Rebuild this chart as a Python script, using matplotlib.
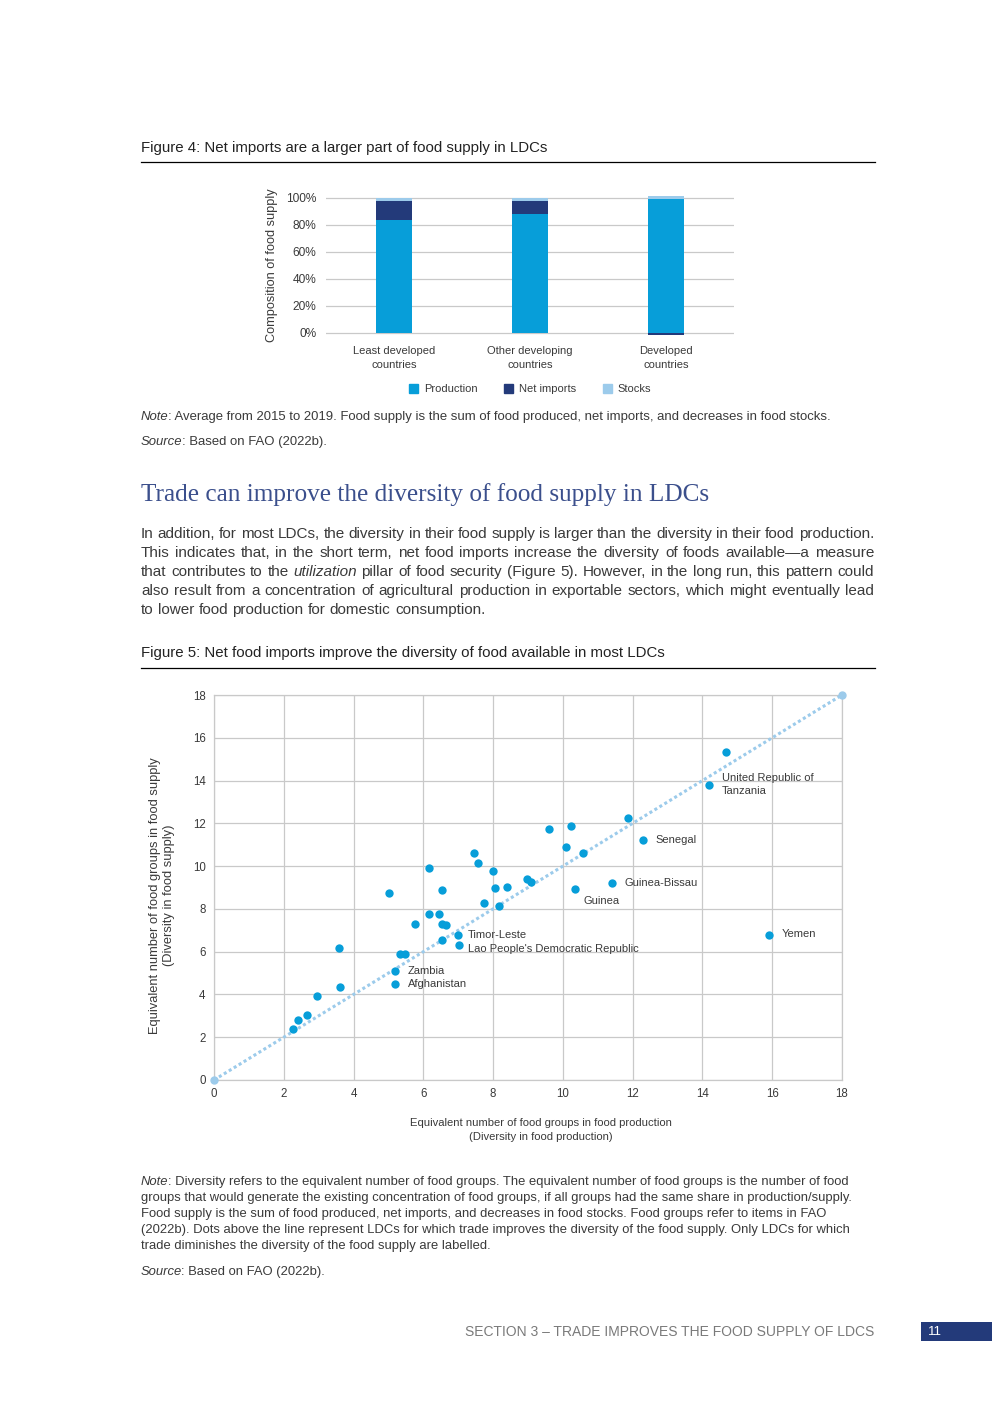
import matplotlib
matplotlib.use("Agg")
import matplotlib.pyplot as plt
from matplotlib.patches import Rectangle, Patch

W, H = 992, 1403
SANS = ["Liberation Sans", "DejaVu Sans"]
TEXT = "#3a3a3a"
GRID = "#c9c9c9"
BLUE = "#079ed9"
NAVY = "#233a7a"
LIGHT = "#9ccbeb"

# ---- Figure 4 data ----
bar_categories = ["Least developed\ncountries", "Other developing\ncountries", "Developed\ncountries"]
production = [84.0, 88.0, 99.5]
net_imports = [14.0, 10.0, -1.5]
stocks = [2.0, 2.0, 2.0]
pct_ticks = [0, 20, 40, 60, 80, 100]

# ---- Figure 5 data (production diversity, supply diversity) ----
prod_div = [2.27, 2.40, 2.67, 2.94, 3.57, 3.62, 5.03, 5.34, 5.48, 5.75,
            6.15, 6.15, 6.46, 6.54, 6.53, 6.65, 6.53, 7.44, 7.58, 7.74,
            8.01, 8.06, 8.17, 8.40, 8.98, 9.08, 9.60, 10.23, 10.09, 10.59,
            11.88, 14.67]
supply_div = [2.40, 2.80, 3.03, 3.95, 6.19, 4.37, 8.76, 5.88, 5.88, 7.29,
              9.91, 7.78, 7.78, 8.86, 7.29, 7.26, 6.56, 10.62, 10.16, 8.29,
              9.77, 9.00, 8.15, 9.04, 9.39, 9.24, 11.74, 11.87, 10.89, 10.59,
              12.26, 15.32]
labelled_names = ["Zambia", "Afghanistan", "Timor-Leste", "Lao People's Democratic Republic",
                  "Guinea", "Guinea-Bissau", "Senegal", "United Republic of\nTanzania", "Yemen"]
labelled_prod = [5.19, 5.19, 7.00, 7.03, 10.36, 11.41, 12.30, 14.20, 15.90]
labelled_supply = [5.09, 4.51, 6.80, 6.31, 8.93, 9.22, 11.21, 13.81, 6.78]
label_offsets = [(9, 0), (9, 0), (7, 0), (6, -3), (6, -9), (9, 0), (9, 0), (9, 0), (9, 1)]
div_ticks = [0, 2, 4, 6, 8, 10, 12, 14, 16, 18]

paragraph = [
    "In addition, for most LDCs, the diversity in their food supply is larger than the diversity in their food production.",
    "This indicates that, in the short term, net food imports increase the diversity of foods available\u2014a measure",
    "that contributes to the utilization pillar of food security (Figure 5). However, in the long run, this pattern could",
    "also result from a concentration of agricultural production in exportable sectors, which might eventually lead",
    "to lower food production for domestic consumption.",
]
note5 = [
    "Diversity refers to the equivalent number of food groups. The equivalent number of food groups is the number of food",
    "groups that would generate the existing concentration of food groups, if all groups had the same share in production/supply.",
    "Food supply is the sum of food produced, net imports, and decreases in food stocks. Food groups refer to items in FAO",
    "(2022b). Dots above the line represent LDCs for which trade improves the diversity of the food supply. Only LDCs for which",
    "trade diminishes the diversity of the food supply are labelled.",
]


def fx(x):
    return x / W


def fy(y):
    return 1 - y / H


fig = plt.figure(figsize=(W / 100, H / 100), dpi=100)
renderer = fig.canvas.get_renderer()


def runs(x, y, parts, size):
    # draw consecutive text pieces with their own style, left to right
    for txt, style in parts:
        t = fig.text(fx(x), fy(y), txt, fontsize=size, color=TEXT, family=SANS,
                     style=style, va="center", ha="left")
        x += t.get_window_extent(renderer).width - (1 if style == "italic" else 0)
    return x


def text_width(s, size):
    t = fig.text(0, 0, s, fontsize=size, family=SANS)
    w = t.get_window_extent(renderer).width
    t.remove()
    return w


def justify(line, y, x0, x1, size, italic=(), last=False):
    words = line.split(" ")
    texts = [fig.text(0, fy(y), w, fontsize=size, color=TEXT, family=SANS, va="center",
                      style="italic" if w in italic else "normal") for w in words]
    widths = [t.get_window_extent(renderer).width for t in texts]
    space = text_width("a a", size) - text_width("aa", size)
    gap = space if last else (x1 - x0 - sum(widths)) / (len(words) - 1)
    x = x0
    for t, w in zip(texts, widths):
        t.set_x(fx(x))
        x += w + gap


# ---------------- Figure 4 ----------------
fig.text(fx(141), fy(148), "Figure 4: Net imports are a larger part of food supply in LDCs",
         fontsize=10.8, color="#222222", family=SANS, va="center")
fig.add_artist(plt.Line2D([fx(141), fx(875)], [fy(162), fy(162)], color="black", lw=0.9))

ax1 = fig.add_axes([fx(326), fy(340), fx(734) - fx(326), (340 - 185) / H])
xs = range(len(bar_categories))
bw = 0.265
ax1.bar(xs, production, bw, color=BLUE, label="Production", zorder=3)
ni_bottom = [p if n > 0 else 0 for p, n in zip(production, net_imports)]
ax1.bar(xs, net_imports, bw, bottom=ni_bottom, color=NAVY, label="Net imports", zorder=3)
st_bottom = [p + max(n, 0) for p, n in zip(production, net_imports)]
ax1.bar(xs, stocks, bw, bottom=st_bottom, color=LIGHT, label="Stocks", zorder=3)
ax1.set_xlim(-0.5, 2.5)
ax1.set_ylim(-5.2, 109.6)
ax1.set_yticks(pct_ticks)
ax1.set_yticklabels([f"{v}%" for v in pct_ticks], fontsize=8.6, color=TEXT, family=SANS)
ax1.set_xticks(list(xs))
ax1.set_xticklabels(bar_categories, fontsize=8.0, color=TEXT, family=SANS, linespacing=1.5)
ax1.tick_params(length=0, pad=7)
ax1.tick_params(axis="x", pad=4)
ax1.grid(axis="y", color=GRID, lw=0.9, zorder=0)
for s in ax1.spines.values():
    s.set_visible(False)
ax1.set_ylabel("Composition of food supply", fontsize=9.2, color=TEXT, family=SANS)
ax1.yaxis.set_label_coords(-0.118, 0.48)
handles = [Patch(color=BLUE), Patch(color=NAVY), Patch(color=LIGHT)]
fig.legend(handles, ["Production", "Net imports", "Stocks"], loc="center",
           bbox_to_anchor=(fx(530), fy(389)), ncol=3, frameon=False,
           handlelength=0.85, handleheight=0.85, handletextpad=0.5, columnspacing=2.4,
           prop={"family": SANS, "size": 8.0}, labelcolor=TEXT)

runs(141, 417, [("Note", "italic"),
                (": Average from 2015 to 2019. Food supply is the sum of food produced, net imports, and decreases in food stocks.", "normal")], 9.42)
runs(141, 442, [("Source", "italic"), (": Based on FAO (2022b).", "normal")], 9.42)

# ---------------- heading + paragraph ----------------
fig.text(fx(141), fy(495), "Trade can improve the diversity of food supply in LDCs",
         fontsize=18.2, color="#3b4f8c", family=["Liberation Serif", "DejaVu Serif"], va="center")
for i, line in enumerate(paragraph):
    justify(line, 534 + 19 * i, 141, 874, 11.0, italic=("utilization",),
            last=(i == len(paragraph) - 1))

fig.text(fx(141), fy(653), "Figure 5: Net food imports improve the diversity of food available in most LDCs",
         fontsize=10.8, color="#222222", family=SANS, va="center")
fig.add_artist(plt.Line2D([fx(141), fx(875)], [fy(668), fy(668)], color="black", lw=0.9))

# ---------------- Figure 5 ----------------
ax2 = fig.add_axes([fx(214), fy(1080), fx(842) - fx(214), (1080 - 695) / H])
ax2.plot([div_ticks[0], div_ticks[-1]], [div_ticks[0], div_ticks[-1]], color=LIGHT, lw=2.2,
         ls=(0, (1, 0.9)), marker="o", ms=5, zorder=3, clip_on=False)
ax2.scatter(prod_div, supply_div, s=36, color=BLUE, zorder=4, linewidths=0)
ax2.scatter(labelled_prod, labelled_supply, s=36, color=BLUE, zorder=4, linewidths=0)
for name, px, py, off in zip(labelled_names, labelled_prod, labelled_supply, label_offsets):
    ax2.annotate(name, (px, py), xytext=off, textcoords="offset points", fontsize=8,
                 color=TEXT, family=SANS, va="center", ha="left", linespacing=1.3)
ax2.set_xlim(0, 18)
ax2.set_ylim(0, 18)
ax2.set_xticks(div_ticks)
ax2.set_yticks(div_ticks)
ax2.set_xticklabels([str(v) for v in div_ticks], fontsize=8.3, color=TEXT, family=SANS)
ax2.set_yticklabels([str(v) for v in div_ticks], fontsize=8.3, color=TEXT, family=SANS)
ax2.tick_params(length=0, pad=6)
ax2.grid(color=GRID, lw=0.9, zorder=0)
for s in ax2.spines.values():
    s.set_color(GRID)
    s.set_linewidth(0.9)
ax2.set_xlabel("Equivalent number of food groups in food production\n(Diversity in food production)",
               fontsize=8.1, color=TEXT, family=SANS, linespacing=1.5)
ax2.xaxis.set_label_coords(0.52, -0.1)
ax2.set_ylabel("Equivalent number of food groups in food supply\n(Diversity in food supply)",
               fontsize=9.3, color=TEXT, family=SANS, linespacing=1.2)
ax2.yaxis.set_label_coords(-0.062, 0.48)

for i, line in enumerate(note5):
    parts = [("Note", "italic"), (": " + line, "normal")] if i == 0 else [(line, "normal")]
    runs(141, 1182 + 16 * i, parts, 9.35)
runs(141, 1272, [("Source", "italic"), (": Based on FAO (2022b).", "normal")], 9.35)

# ---------------- footer ----------------
fig.text(fx(874), fy(1332), "SECTION 3 \u2013 TRADE IMPROVES THE FOOD SUPPLY OF LDCS",
         fontsize=10, color="#7a7a7a", family=SANS, ha="right", va="center")
fig.add_artist(Rectangle((fx(921), fy(1341)), fx(992) - fx(921), (1341 - 1322) / H,
                         transform=fig.transFigure, color=NAVY, lw=0))
fig.text(fx(928), fy(1332), "11", fontsize=9.5, color="white", family=SANS, va="center")

fig.savefig("out.png", dpi=100)
